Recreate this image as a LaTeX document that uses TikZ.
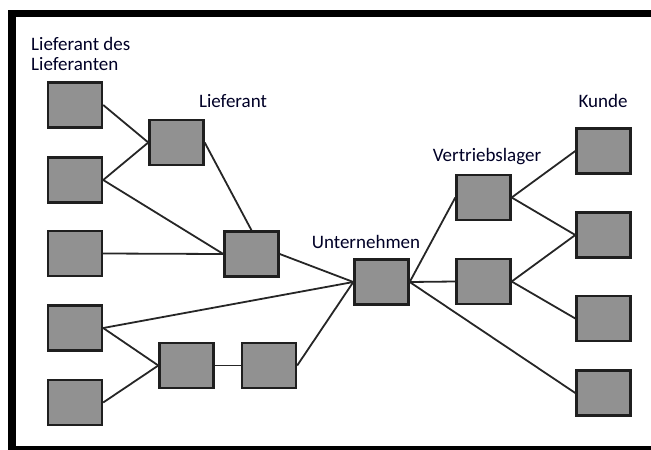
\documentclass[tikz,border=0pt]{standalone}
\usepackage{fontspec}
\setmainfont{Carlito}
\begin{document}
\begin{tikzpicture}[x=1pt,y=-1pt,
  unit/.style={draw=black!88,line width=2.4pt,fill=black!43,minimum width=54pt,minimum height=45pt,inner sep=0pt},
  link/.style={draw=black!85,line width=1.8pt},
  lbl/.style={font=\fontsize{19}{20}\selectfont,text=black!85!blue,align=left,inner sep=0pt}]
\useasboundingbox (0,0) rectangle (651,450);
% frame bands
\fill[black] (8,10) rectangle (651,17);
\fill[black] (8,10) rectangle (16,450);
\fill[black] (8,446) rectangle (651,450);
% suppliers of suppliers
\node[unit] (s1) at (75,105) {};
\node[unit] (s2) at (75,180) {};
\node[unit] (s3) at (75,253.5) {};
\node[unit] (s4) at (75,328) {};
\node[unit] (s5) at (75,402.5) {};
% suppliers
\node[unit] (l1) at (176.5,142.5) {};
\node[unit] (l2) at (251.5,254) {};
\node[unit] (b1) at (186.5,365.5) {};
\node[unit] (b2) at (269,365.5) {};
% company
\node[unit] (u) at (381.5,282) {};
% distribution warehouses
\node[unit] (v1) at (483.5,197.5) {};
\node[unit] (v2) at (483.5,281.5) {};
% customers
\node[unit] (k1) at (603.5,151) {};
\node[unit] (k2) at (603.5,235) {};
\node[unit] (k3) at (603.5,318.5) {};
\node[unit] (k4) at (603.5,393) {};
% labels
\node[lbl,anchor=north west] (t1) at (31,37) {Lieferant des\\Lieferanten};
\node[lbl] (t2) at (233,101) {Lieferant};
\node[lbl] (t3) at (366,242) {Unternehmen};
\node[lbl] (t4) at (487,157) {Vertriebslager};
\node[lbl] (t5) at (603,101) {Kunde};
% connectors
\draw[link] (s1.east) -- (l1.west);
\draw[link] (s2.east) -- (l1.west);
\draw[link] (s2.east) -- (l2.west);
\draw[link] (s3.east) -- (l2.west);
\draw[link] (l1.east) -- (l2.north);
\draw[link] (l2.east) -- (u.west);
\draw[link] (s4.east) -- (u.west);
\draw[link] (s4.east) -- (b1.west);
\draw[link] (s5.east) -- (b1.west);
\draw[link] (b1.east) -- (b2.west);
\draw[link] (b2.east) -- (u.west);
\draw[link] (u.east) -- (v1.west);
\draw[link] (u.east) -- (v2.west);
\draw[link] (u.east) -- (k4.west);
\draw[link] (v1.east) -- (k1.west);
\draw[link] (v1.east) -- (k2.west);
\draw[link] (v2.east) -- (k2.west);
\draw[link] (v2.east) -- (k3.west);
\end{tikzpicture}
\end{document}
